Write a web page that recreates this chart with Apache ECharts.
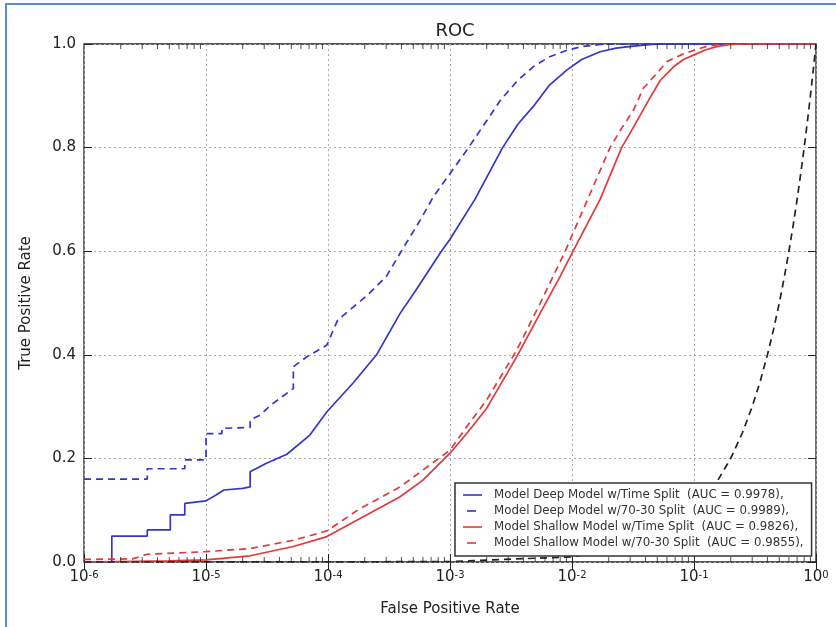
<!DOCTYPE html>
<html>
<head>
<meta charset="utf-8">
<script src="https://cdn.jsdelivr.net/npm/echarts@6.0.0/dist/echarts.min.js"></script>
<style>
  html, body { margin: 0; padding: 0; background: #fff; }
  #chart { width: 836px; height: 627px; }
</style>
</head>
<body>
<div id="chart"></div>
<script>
// [false positive rate, true positive rate]
const deepTime = [
  [1e-6, 0], [1.69e-6, 0], [1.69e-6, 0.05], [3.3e-6, 0.05], [3.3e-6, 0.062],
  [5.1e-6, 0.062], [5.1e-6, 0.091], [6.7e-6, 0.091], [6.7e-6, 0.113], [1.0e-5, 0.118],
  [1.2e-5, 0.129], [1.4e-5, 0.139], [2.0e-5, 0.142], [2.3e-5, 0.145], [2.3e-5, 0.174],
  [3.1e-5, 0.19], [4.6e-5, 0.208], [7.1e-5, 0.245], [9.8e-5, 0.29], [1.6e-4, 0.345],
  [2.5e-4, 0.40], [3.9e-4, 0.48], [5.2e-4, 0.523], [8.5e-4, 0.60], [1.0e-3, 0.623],
  [1.6e-3, 0.70], [2.7e-3, 0.80], [3.6e-3, 0.845], [4.8e-3, 0.879], [6.5e-3, 0.92],
  [9.1e-3, 0.95], [1.2e-2, 0.97], [1.7e-2, 0.985], [2.3e-2, 0.992], [3.2e-2, 0.996],
  [4.5e-2, 0.999], [6e-2, 1.0], [1, 1.0]
];
const deep7030 = [
  [1e-6, 0.16], [3.3e-6, 0.16], [3.3e-6, 0.18], [6.7e-6, 0.18], [6.7e-6, 0.197],
  [1.0e-5, 0.197], [1.0e-5, 0.248], [1.35e-5, 0.248], [1.35e-5, 0.258], [2.3e-5, 0.26],
  [2.3e-5, 0.274], [2.8e-5, 0.284], [3.4e-5, 0.303], [5.2e-5, 0.335], [5.2e-5, 0.377],
  [6.7e-5, 0.396], [9.8e-5, 0.419], [1.2e-4, 0.467], [2.1e-4, 0.515], [3.0e-4, 0.551],
  [3.9e-4, 0.596], [5.7e-4, 0.66], [7.3e-4, 0.705], [1.42e-3, 0.80], [2.6e-3, 0.892],
  [3.6e-3, 0.93], [4.8e-3, 0.956], [6.5e-3, 0.975], [9.1e-3, 0.988], [1.2e-2, 0.995],
  [1.7e-2, 0.999], [2.2e-2, 1.0], [1, 1.0]
];
const shallowTime = [
  [1e-6, 0], [5e-6, 0.002], [1e-5, 0.004], [2.3e-5, 0.012], [5.2e-5, 0.03],
  [9.8e-5, 0.049], [1.8e-4, 0.083], [3.9e-4, 0.126], [6e-4, 0.158], [1e-3, 0.21],
  [1.37e-3, 0.248], [2.0e-3, 0.297], [3.52e-3, 0.396], [5.47e-3, 0.48], [7.98e-3, 0.551],
  [1.03e-2, 0.602], [1.7e-2, 0.70], [2.55e-2, 0.80], [3.2e-2, 0.84], [4.4e-2, 0.898],
  [5.3e-2, 0.93], [6.8e-2, 0.956], [8.2e-2, 0.97], [0.1, 0.979], [0.125, 0.989],
  [0.153, 0.995], [0.2, 0.999], [0.26, 1.0], [1, 1.0]
];
const shallow7030 = [
  [1e-6, 0.005], [2.5e-6, 0.006], [3.3e-6, 0.015], [1e-5, 0.02], [2.3e-5, 0.026],
  [5.2e-5, 0.042], [9.8e-5, 0.06], [1.8e-4, 0.102], [3.9e-4, 0.145], [1e-3, 0.216],
  [1.37e-3, 0.261], [2.0e-3, 0.313], [3.52e-3, 0.409], [5.47e-3, 0.499], [8.8e-3, 0.60],
  [1.4e-2, 0.71], [2.05e-2, 0.80], [2.5e-2, 0.834], [3.2e-2, 0.873], [3.85e-2, 0.915],
  [4.9e-2, 0.942], [6e-2, 0.966], [8e-2, 0.98], [0.1, 0.988], [0.125, 0.995],
  [0.16, 0.999], [0.2, 1.0], [1, 1.0]
];
const chance = [
  [1e-6, 1e-6], [1e-4, 1e-4], [1e-3, 0.001], [1e-2, 0.01], [0.03, 0.03], [0.06, 0.06],
  [0.1, 0.1], [0.12, 0.12], [0.15, 0.15], [0.2, 0.2], [0.25, 0.25], [0.3, 0.3],
  [0.35, 0.35], [0.4, 0.4], [0.45, 0.45], [0.5, 0.5], [0.55, 0.55], [0.6, 0.6],
  [0.65, 0.65], [0.7, 0.7], [0.75, 0.75], [0.8, 0.8], [0.85, 0.85], [0.9, 0.9],
  [0.95, 0.95], [1, 1]
];
const seriesNames = [
  'Model Deep Model w/Time Split  (AUC = 0.9978),',
  'Model Deep Model w/70-30 Split  (AUC = 0.9989),',
  'Model Shallow Model w/Time Split  (AUC = 0.9826),',
  'Model Shallow Model w/70-30 Split  (AUC = 0.9855),'
];
const yTicks = [0, 0.2, 0.4, 0.6, 0.8, 1.0];

// matplotlib style minor ticks 2..9 per decade
const minorTicks = [];
for (let k = -6; k < 0; k++) {
  for (let m = 2; m <= 9; m++) minorTicks.push(m * Math.pow(10, k));
}

const BLUE = '#3535c8';
const RED = '#e23a3a';
const TXT = '#222';

// legend samples: a long line for solid, a single short dash for dashed
// (corner points keep the 26x12 box so the text sits further right)
const ICON_SOLID = 'path://M0,0L0,0M26,12L26,12M0,5.2h19v1.6h-19z';
const ICON_DASH = 'path://M0,0L0,0M26,12L26,12M4,5.2h9v1.6h-9z';

const chart = echarts.init(document.getElementById('chart'));

function curve(name, data, color, dashed) {
  return {
    name: name, type: 'line', data: data, symbol: 'none', silent: true,
    lineStyle: { color: color, width: 1.7, type: dashed ? [7, 5] : 'solid' },
    itemStyle: { color: color }
  };
}

function minorSeries(y, offset) {
  return {
    type: 'scatter', silent: true, clip: false,
    data: minorTicks.map(v => [v, y]),
    symbol: 'rect', symbolSize: [1, 5], symbolOffset: [0, offset],
    itemStyle: { color: TXT }, z: 5
  };
}

const option = {
  animation: false,
  backgroundColor: '#fff',
  title: {
    text: 'ROC', left: 450, top: 17, textAlign: 'center',
    textStyle: { fontFamily: 'DejaVu Sans', fontSize: 18, fontWeight: 'normal', color: TXT }
  },
  graphic: [{
    type: 'rect', shape: { x: 6, y: 4, width: 900, height: 700 },
    style: { fill: 'none', stroke: '#5b8bd0', lineWidth: 2 }, silent: true
  }],
  grid: {
    left: 84, right: 20, top: 44, bottom: 65,
    show: true, borderColor: TXT, borderWidth: 1.3, backgroundColor: '#fff'
  },
  legend: {
    data: seriesNames.map((n, i) => ({ name: n, icon: i % 2 ? ICON_DASH : ICON_SOLID })),
    orient: 'vertical', left: 455, top: 483,
    padding: [6, 8, 7, 8], itemGap: 4, itemWidth: 26, itemHeight: 12,
    backgroundColor: '#fff', borderColor: '#333', borderWidth: 1.5, borderRadius: 0,
    textStyle: { fontFamily: 'DejaVu Sans', fontSize: 11.8, lineHeight: 12, color: '#333' }
  },
  xAxis: [{
    type: 'log', logBase: 10, min: 1e-6, max: 1, interval: 1,
    name: 'False Positive Rate', nameLocation: 'middle', nameGap: 40,
    nameTextStyle: { fontFamily: 'DejaVu Sans', fontSize: 15, color: TXT },
    axisLine: { show: false },
    axisTick: { inside: true, length: 8, lineStyle: { color: TXT } },
    axisLabel: {
      margin: 8,
      formatter: v => '{b|10}{s|' + Math.round(Math.log10(v)) + '}',
      rich: {
        b: { fontFamily: 'DejaVu Sans', fontSize: 15, color: TXT },
        s: { fontFamily: 'DejaVu Sans', fontSize: 10, color: TXT, verticalAlign: 'top' }
      }
    },
    splitLine: { show: true, lineStyle: { color: '#aaa', type: [2, 3] } }
  }, {
    type: 'log', logBase: 10, min: 1e-6, max: 1, interval: 1, position: 'top',
    axisLine: { show: false },
    axisTick: { inside: true, length: 8, lineStyle: { color: TXT } },
    axisLabel: { show: false }, splitLine: { show: false }
  }],
  yAxis: [{
    type: 'value', min: 0, max: 1, interval: 0.2,
    name: 'True Positive Rate', nameLocation: 'middle', nameGap: 50,
    nameTextStyle: { fontFamily: 'DejaVu Sans', fontSize: 15, color: TXT },
    axisLine: { show: false },
    axisTick: { show: true, inside: true, length: 8, lineStyle: { color: TXT } },
    axisLabel: {
      margin: 8, fontFamily: 'DejaVu Sans', fontSize: 15, color: TXT,
      formatter: v => yTicks.indexOf(Math.round(v * 10) / 10) >= 0 ? v.toFixed(1) : ''
    },
    splitLine: { show: true, lineStyle: { color: '#aaa', type: [2, 3] } }
  }, {
    type: 'value', min: 0, max: 1, interval: 0.2, position: 'right',
    axisLine: { show: false },
    axisTick: { show: true, inside: true, length: 8, lineStyle: { color: TXT } },
    axisLabel: { show: false }, splitLine: { show: false }
  }],
  series: [
    curve(seriesNames[0], deepTime, BLUE, false),
    curve(seriesNames[1], deep7030, BLUE, true),
    curve(seriesNames[2], shallowTime, RED, false),
    curve(seriesNames[3], shallow7030, RED, true),
    curve('chance', chance, '#222', true),
    minorSeries(0, -2.5),
    minorSeries(1, 2.5)
  ]
};
chart.setOption(option);
</script>
</body>
</html>
